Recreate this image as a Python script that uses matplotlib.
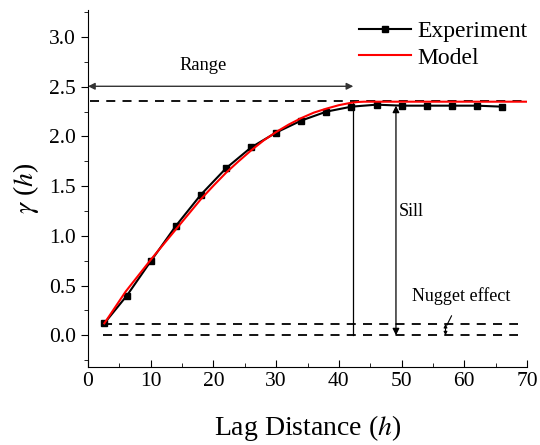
import matplotlib
matplotlib.use('Agg')
import matplotlib.pyplot as plt
from matplotlib.ticker import MultipleLocator

plt.rcParams['font.family'] = ['Liberation Serif', 'DejaVu Serif']
plt.rcParams['mathtext.fontset'] = 'stix'

# Experimental semivariogram
lag = [2.6, 6.2, 10, 14, 18, 22, 26, 30, 34, 38, 42, 46, 50, 54, 58, 62, 66]
gamma_exp = [0.12, 0.40, 0.745, 1.10, 1.415, 1.68, 1.89, 2.04, 2.16, 2.25,
             2.30, 2.32, 2.31, 2.31, 2.31, 2.31, 2.30]

# Fitted model
lag_model = [2.6, 6, 10, 14, 18, 20, 22, 24, 26, 28, 30, 32, 34, 36, 38, 40,
             42, 43, 44, 50, 60, 70]
gamma_model = [0.12, 0.44, 0.76, 1.065, 1.37, 1.505, 1.635, 1.75, 1.86, 1.96,
               2.045, 2.12, 2.185, 2.24, 2.28, 2.315, 2.34, 2.347, 2.35,
               2.35, 2.35, 2.35]

sill = 2.357
nugget = 0.114
range_a = 42.3

fig, ax = plt.subplots(figsize=(5.4, 4.45), dpi=100)
fig.subplots_adjust(left=0.163, right=0.976, top=0.977, bottom=0.175)

dash = (0, (5, 4))
ax.plot([0.3, 70], [sill, sill], color='black', lw=1.3, linestyle=dash)
ax.plot([2.4, 68.5], [nugget, nugget], color='black', lw=1.3, linestyle=dash)
ax.plot([2.4, 68.5], [0, 0], color='black', lw=1.3, linestyle=dash)

ax.plot(lag, gamma_exp, color='black', lw=1.5, marker='s', markersize=4,
        label='Experiment', zorder=3)
ax.plot(lag_model, gamma_model, color='red', lw=1.5, label='Model', zorder=4)

# range
ax.annotate('', xy=(0, 2.505), xytext=(range_a, 2.505),
            arrowprops=dict(arrowstyle='<|-|>', color='#333333', lw=1.0,
                            mutation_scale=10, shrinkA=0, shrinkB=0))
ax.text(18.3, 2.71, 'Range', fontsize=13.3, ha='center', va='center')
ax.plot([range_a, range_a], [0, sill], color='black', lw=0.9)

# sill
ax.annotate('', xy=(49.1, 0), xytext=(49.1, 2.31),
            arrowprops=dict(arrowstyle='<|-|>', color='black', lw=0.9,
                            mutation_scale=10, shrinkA=0, shrinkB=0))
ax.text(49.6, 1.25, 'Sill', fontsize=13, ha='left', va='center')

# nugget
ax.annotate('', xy=(57.0, 0), xytext=(57.0, nugget),
            arrowprops=dict(arrowstyle='<|-|>', color='black', lw=0.8,
                            mutation_scale=5, shrinkA=0, shrinkB=0))
ax.annotate('Nugget effect', xy=(57.2, 0.1), xytext=(59.5, 0.39),
            fontsize=13, ha='center', va='center',
            arrowprops=dict(arrowstyle='-', color='black', lw=0.8,
                            shrinkA=6, shrinkB=0))

ax.set_xlim(0, 70)
ax.set_ylim(-0.32, 3.27)
ax.xaxis.set_major_locator(MultipleLocator(10))
ax.xaxis.set_minor_locator(MultipleLocator(5))
ax.yaxis.set_major_locator(MultipleLocator(0.5))
ax.yaxis.set_minor_locator(MultipleLocator(0.25))
ax.yaxis.set_major_formatter(matplotlib.ticker.FormatStrFormatter('%.1f'))

ax.spines['top'].set_visible(False)
ax.spines['right'].set_visible(False)
ax.tick_params(axis='x', which='both', direction='in', labelsize=15.5)
ax.tick_params(axis='y', which='both', direction='out', labelsize=15.5)
ax.tick_params(which='major', length=5)
ax.tick_params(which='minor', length=3)

ax.set_xlabel('Lag Distance ($h$)', fontsize=20, labelpad=16)
ax.set_ylabel(r'$\gamma$ ($h$)', fontsize=20, labelpad=6)

ax.legend(loc='upper right', bbox_to_anchor=(1.05, 1.03), frameon=False,
          fontsize=17, handlelength=2.2, handletextpad=0.3, labelspacing=0.2)

plt.savefig('out.png')
